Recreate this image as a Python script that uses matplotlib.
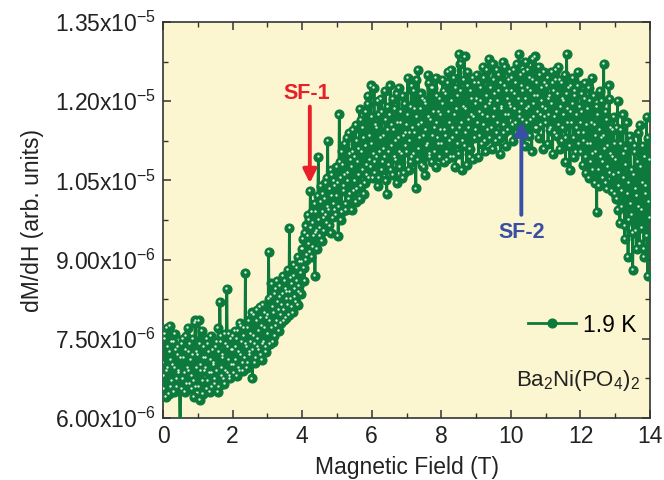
import numpy as np
import matplotlib
matplotlib.use('Agg')
import matplotlib.pyplot as plt
from matplotlib.ticker import FixedLocator, FixedFormatter, MultipleLocator
from matplotlib.transforms import offset_copy

plt.rcParams['font.family'] = ['Liberation Sans', 'DejaVu Sans']
plt.rcParams['mathtext.fontset'] = 'custom'
plt.rcParams['mathtext.rm'] = 'Liberation Sans'
plt.rcParams['mathtext.it'] = 'Liberation Sans:italic'

# dM/dH at 1.9 K, in units of 1e-6.
# dmdh: points at k/30 T, dmdh_mid: the points between them at (k+0.5)/30 T
dmdh = [
    7.05, 6.55, 7.60, 6.90, 7.35, 6.45, 7.75, 7.10, 6.70, 7.45, 6.95, 7.30, 6.60, 7.20, 6.85,
    5.85, 7.40, 6.75, 7.15, 6.50, 7.55, 6.95, 7.25, 6.65, 7.10, 6.80, 7.50, 6.40, 7.85, 6.95,
    7.20, 7.85, 6.35, 7.00, 6.70, 7.35, 6.90, 7.15, 6.55, 7.40, 6.85, 7.10, 6.60, 7.30, 7.00,
    6.75, 7.45, 6.50, 7.25, 8.20, 7.55, 6.80, 7.15, 6.65, 7.40, 8.45, 6.85, 7.60, 6.75, 7.30,
    7.30, 6.85, 7.65, 7.10, 7.50, 6.95, 7.80, 7.20, 7.45, 6.90, 7.70, 8.75, 7.35, 7.05, 7.85,
    7.25, 7.60, 6.75, 7.95, 7.40, 7.15, 8.05, 7.50, 7.30, 7.90, 7.10, 8.15, 7.45, 7.70, 7.35,
    7.95, 9.15, 7.40, 8.30, 7.70, 8.10, 7.55, 8.45, 7.85, 8.20, 7.65, 8.50, 7.80, 8.35, 8.05,
    8.60, 7.90, 8.40, 8.15, 9.60, 8.25, 8.55, 8.00, 8.70, 8.30, 8.85, 8.15, 8.50, 8.95, 8.35,
    8.95, 9.40, 8.60, 9.65, 9.10, 9.85, 9.30, 10.30, 9.05, 9.70, 9.45, 8.70, 9.90, 9.55, 10.95,
    9.60, 10.10, 9.35, 10.25, 9.80, 10.45, 9.70, 11.25, 9.95, 10.35, 9.50, 10.60, 10.05, 10.40, 9.85,
    10.20, 9.45, 11.75, 10.55, 9.90, 10.80, 10.30, 11.20, 10.05, 10.65, 11.40, 10.25, 10.90, 9.95, 11.05,
    10.50, 11.55, 10.35, 10.85, 11.10, 10.15, 11.65, 10.70, 11.30, 10.45, 11.80, 10.60, 12.10, 10.90, 12.30,
    11.20, 10.55, 12.25, 10.85, 11.50, 10.40, 11.75, 11.05, 12.05, 10.70, 11.35, 10.95, 11.65, 10.25, 11.90,
    10.80, 12.30, 11.15, 10.60, 11.45, 11.85, 10.90, 12.15, 11.30, 10.75, 11.60, 11.00, 12.10, 10.65, 11.40,
    11.55, 12.45, 10.70, 11.25, 11.90, 10.95, 12.20, 11.40, 10.35, 11.70, 12.60, 11.10, 11.85, 10.80, 12.05,
    11.35, 10.60, 11.95, 11.20, 12.35, 11.00, 11.65, 10.85, 12.25, 11.50, 10.75, 12.10, 11.30, 11.80, 10.95,
    11.75, 12.40, 10.85, 11.45, 12.15, 11.05, 12.55, 11.60, 10.95, 12.00, 11.30, 12.45, 10.75, 11.85, 11.20,
    12.90, 11.50, 12.20, 10.70, 11.90, 12.85, 11.40, 10.80, 12.30, 11.65, 11.10, 12.05, 10.90, 11.70, 12.35,
    11.45, 12.50, 10.95, 11.80, 12.25, 11.20, 12.65, 11.55, 11.05, 12.10, 11.70, 12.80, 11.30, 12.00, 11.10,
    12.40, 11.85, 11.25, 12.60, 11.60, 12.20, 11.00, 11.90, 12.75, 11.40, 12.30, 11.15, 12.05, 11.75, 12.55,
    11.90, 12.45, 11.25, 12.15, 11.60, 12.70, 11.40, 12.90, 11.80, 12.30, 11.65, 12.55, 11.15, 12.05, 11.85,
    12.60, 11.35, 12.20, 11.05, 12.40, 11.70, 12.85, 11.50, 12.10, 11.30, 12.50, 11.75, 12.00, 11.10, 12.35,
    11.85, 12.30, 11.20, 12.05, 11.45, 12.55, 11.00, 12.20, 11.70, 12.40, 11.35, 12.65, 11.10, 11.90, 12.35,
    11.50, 12.00, 10.85, 12.90, 11.60, 12.25, 10.70, 11.80, 12.45, 11.30, 12.10, 11.05, 11.75, 12.30, 11.40,
    11.60, 12.15, 10.80, 11.40, 12.35, 10.95, 11.85, 10.55, 12.00, 11.20, 12.45, 10.70, 11.55, 11.05, 9.90,
    11.75, 10.40, 12.20, 11.30, 10.85, 12.70, 11.10, 10.45, 11.65, 10.75, 12.05, 11.00, 10.30, 11.45, 10.60,
    11.20, 10.15, 12.00, 10.65, 9.70, 11.45, 10.30, 11.00, 9.40, 10.80, 11.60, 9.05, 10.45, 11.25, 9.85,
    8.80, 10.60, 11.05, 9.55, 10.20, 11.40, 9.30, 10.75, 9.95, 11.15, 9.20, 10.40, 11.70, 8.70, 10.10,
    10.90,
]
dmdh_mid = [
    6.80, 7.50, 6.40, 7.70, 6.95, 7.25, 6.60, 7.45, 7.00, 6.50, 7.60, 6.75, 7.35, 6.90, 5.80,
    7.15, 6.55, 7.50, 6.85, 7.30, 6.65, 7.70, 6.90, 7.40, 6.55, 7.20, 6.70, 7.80, 6.60, 7.25,
    6.60, 7.40, 6.90, 7.65, 6.45, 7.15, 6.95, 7.50, 6.70, 7.25, 6.50, 7.55, 6.85, 7.05, 6.65,
    7.35, 6.90, 7.70, 6.60, 7.45, 6.95, 7.20, 6.75, 7.60, 6.90, 7.35, 7.10, 6.80, 7.50, 7.00,
    7.55, 7.00, 7.35, 6.80, 7.65, 7.25, 6.90, 7.75, 7.05, 7.55, 7.15, 7.40, 6.95, 7.70, 7.20,
    7.45, 8.00, 7.30, 7.55, 7.05, 7.85, 7.35, 7.65, 8.10, 7.20, 7.75, 7.40, 8.00, 7.25, 7.90,
    7.60, 8.25, 7.85, 8.55, 7.45, 8.00, 8.35, 7.75, 8.60, 8.05, 8.30, 7.95, 8.15, 8.70, 7.85,
    8.45, 8.25, 8.80, 7.95, 8.40, 8.65, 8.10, 8.90, 8.45, 8.20, 8.60, 9.05, 8.40, 8.75, 9.20,
    9.20, 8.85, 9.50, 9.00, 9.45, 9.75, 9.15, 9.60, 9.90, 9.25, 10.05, 9.50, 9.20, 10.20, 9.75,
    9.45, 10.40, 9.90, 9.55, 10.15, 9.85, 10.55, 10.00, 9.65, 10.70, 10.20, 9.80, 10.50, 9.95, 10.75,
    10.45, 10.00, 10.85, 9.75, 11.05, 10.40, 10.60, 9.95, 11.30, 10.50, 10.15, 11.00, 10.75, 11.45, 10.30,
    10.95, 10.10, 11.25, 10.60, 11.85, 10.40, 11.05, 11.50, 10.25, 11.15, 10.80, 11.95, 10.55, 11.35, 10.75,
    11.70, 11.00, 10.65, 11.55, 10.95, 12.00, 10.55, 11.30, 11.80, 10.85, 11.10, 12.20, 10.50, 11.45, 11.05,
    11.75, 10.70, 11.55, 12.05, 10.95, 11.25, 10.45, 11.60, 12.25, 11.05, 11.80, 10.55, 11.35, 11.95, 11.15,
    11.05, 11.75, 11.40, 10.85, 12.30, 11.50, 11.00, 11.85, 12.40, 10.90, 11.55, 11.30, 12.15, 11.60, 10.75,
    12.00, 11.45, 11.15, 12.50, 11.70, 10.95, 12.25, 11.35, 11.80, 11.05, 12.45, 11.60, 11.20, 12.05, 11.45,
    11.20, 11.95, 12.20, 11.35, 10.90, 12.35, 11.80, 11.25, 12.60, 11.50, 10.95, 11.75, 12.25, 11.40, 12.10,
    11.00, 12.70, 11.60, 11.25, 12.40, 11.15, 11.85, 12.55, 11.50, 10.95, 12.20, 11.75, 12.45, 11.30, 11.95,
    12.05, 11.60, 12.35, 11.35, 12.00, 11.75, 12.45, 11.25, 11.90, 12.60, 11.45, 11.95, 12.25, 11.50, 12.70,
    11.70, 12.15, 11.40, 12.00, 12.50, 11.30, 12.35, 11.85, 11.55, 12.65, 11.75, 12.20, 11.45, 12.40, 11.95,
    12.20, 11.55, 12.60, 11.85, 12.35, 11.40, 12.05, 11.70, 12.50, 11.95, 12.20, 11.45, 12.75, 11.60, 12.25,
    11.90, 12.45, 11.65, 12.80, 11.95, 12.10, 11.50, 12.35, 11.80, 12.65, 11.55, 12.25, 11.90, 12.55, 11.70,
    11.60, 12.45, 11.75, 12.10, 11.50, 11.95, 12.35, 11.40, 12.60, 11.80, 12.15, 11.55, 12.40, 11.25, 12.05,
    11.75, 12.50, 11.30, 12.15, 11.85, 11.15, 12.30, 11.60, 11.95, 10.95, 12.20, 11.50, 12.55, 11.20, 11.90,
    11.05, 11.80, 11.25, 12.05, 10.65, 11.55, 11.20, 12.25, 10.85, 11.60, 11.00, 12.10, 10.45, 11.35, 11.90,
    10.70, 11.45, 10.95, 12.00, 10.55, 11.35, 11.80, 10.35, 11.15, 12.30, 10.65, 11.50, 10.95, 11.70, 10.25,
    10.90, 11.50, 9.95, 10.40, 11.20, 10.00, 11.75, 10.55, 9.65, 11.10, 10.25, 9.75, 11.35, 10.05, 10.70,
    9.50, 11.15, 10.35, 9.20, 10.85, 10.00, 11.55, 9.60, 10.45, 9.05, 10.95, 10.25, 9.45, 11.30, 9.80,
]

signal = np.empty(len(dmdh) + len(dmdh_mid))
signal[0::2] = dmdh
signal[1::2] = dmdh_mid
signal = signal * 1e-6
field = np.linspace(0, 14, len(signal))

yticks = [6.0e-6, 7.5e-6, 9.0e-6, 1.05e-5, 1.20e-5, 1.35e-5]
ytick_labels = [r'6.00x10$^{-6}$', r'7.50x10$^{-6}$', r'9.00x10$^{-6}$',
                r'1.05x10$^{-5}$', r'1.20x10$^{-5}$', r'1.35x10$^{-5}$']

green = '#0b7a3a'
fs = 16.5
fig = plt.figure(figsize=(6.64, 4.8), dpi=100)
ax = fig.add_axes([0.2455, 0.129, 0.7335, 0.825])
ax.set_facecolor('#fbf6cf')

line, = ax.plot(field, signal, '-o', color=green, lw=2.0, ms=6.3, mec=green, mfc=green,
                label='1.9 K', zorder=3)
# little white glint on every ball
glint = offset_copy(ax.transData, fig=fig, x=-0.6, y=0.6, units='points')
ax.plot(field, signal, 'o', color='white', ms=1.7, mew=0, alpha=0.9, transform=glint, zorder=4)

ax.set_xlim(0, 14)
ax.set_ylim(6.0e-6, 1.35e-5)
ax.xaxis.set_major_locator(MultipleLocator(2))
ax.xaxis.set_minor_locator(MultipleLocator(1))
ax.yaxis.set_major_locator(FixedLocator(yticks))
ax.yaxis.set_major_formatter(FixedFormatter(ytick_labels))
ax.yaxis.set_minor_locator(MultipleLocator(0.75e-6))
ax.tick_params(which='both', direction='in', top=True, right=True, labelsize=fs,
               color='#333333', labelcolor='#222222')
ax.tick_params(which='major', length=6, width=1.1)
ax.tick_params(which='minor', length=3.5, width=1.0)
ax.tick_params(axis='x', pad=5)
ax.tick_params(axis='y', pad=5)
for s in ax.spines.values():
    s.set_linewidth(1.2)
    s.set_color('#333333')

ax.set_xlabel('Magnetic Field (T)', fontsize=fs, color='#222222', labelpad=6)
ax.set_ylabel('dM/dH (arb. units)', fontsize=fs, color='#222222', labelpad=8)

# spin-flop arrows
ax.annotate('', xy=(4.22, 10.45e-6), xytext=(4.22, 11.9e-6),
            arrowprops=dict(arrowstyle='-|>', color='#e8202a', lw=2.8, mutation_scale=20,
                            shrinkA=0, shrinkB=0), zorder=5)
ax.text(4.12, 12.05e-6, 'SF-1', color='#e8202a', fontsize=15.5, fontweight='bold',
        ha='center', va='baseline')
ax.annotate('', xy=(10.3, 11.62e-6), xytext=(10.3, 9.85e-6),
            arrowprops=dict(arrowstyle='-|>', color='#3a4fa3', lw=2.8, mutation_scale=20,
                            shrinkA=0, shrinkB=0), zorder=5)
ax.text(10.3, 9.72e-6, 'SF-2', color='#3a4fa3', fontsize=15.5, fontweight='bold',
        ha='center', va='top')

leg = ax.legend(handles=[line], loc='center right', bbox_to_anchor=(0.99, 0.235),
                frameon=False, fontsize=fs, handlelength=2.1, handletextpad=0.3,
                borderaxespad=0)
ax.text(0.98, 0.095, r'Ba$_2$Ni(PO$_4$)$_2$', transform=ax.transAxes, ha='right', va='center',
        fontsize=16, color='#222222')

fig.savefig('out.png', dpi=100)
